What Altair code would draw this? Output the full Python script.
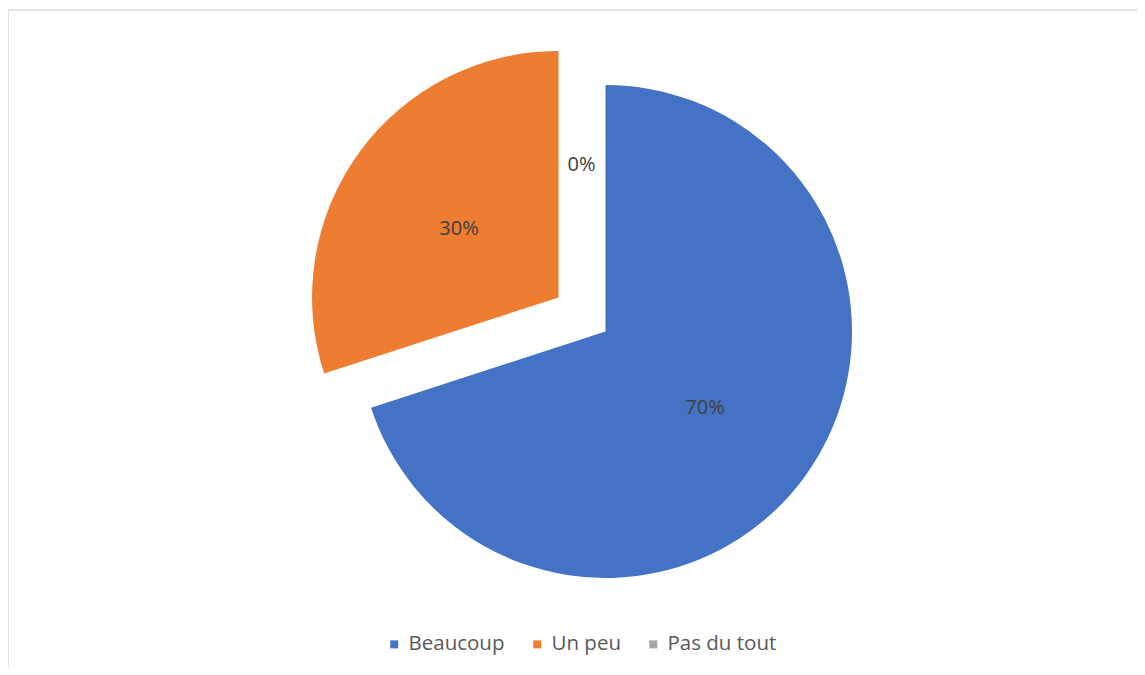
import altair as alt
import pandas as pd

categories = ["Beaucoup", "Un peu", "Pas du tout"]
values = [70, 30, 0]
labels = ["70%", "30%", "0%"]
colors = ["#4472C4", "#ED7D31", "#A5A5A5"]

EXPLODED = ["Un peu", "Pas du tout"]
W, H = 1129, 657
CX, CY = 597.5, 321.5
R = 246.5
EXPLODE = 58
LABEL_R = 123

df = pd.DataFrame({
    "cat": categories,
    "value": values,
    "label": labels,
    "order": list(range(len(categories))),
})

exploded_expr = "indexof(" + str(EXPLODED).replace("'", '"') + ", datum.cat) >= 0 ? 1 : 0"

base = (
    alt.Chart(df)
    .transform_joinaggregate(total="sum(value)")
    .transform_window(cum="sum(value)", sort=[alt.SortField("order")], frame=[None, 0])
    .transform_calculate(
        start="2*PI*(datum.cum - datum.value)/datum.total",
        end="2*PI*datum.cum/datum.total",
    )
    .transform_calculate(mid="(datum.start + datum.end)/2", ex=exploded_expr)
    .transform_calculate(
        cx=f"{CX} + datum.ex*{EXPLODE}*sin(datum.mid)",
        cy=f"{CY} - datum.ex*{EXPLODE}*cos(datum.mid)",
    )
    .transform_calculate(
        lx=f"datum.cx + {LABEL_R}*sin(datum.mid) + (datum.value == 0 ? -24 : 0)",
        ly=f"datum.cy - {LABEL_R}*cos(datum.mid) + (datum.value == 0 ? 10 : 0)",
    )
)

arcs = base.mark_arc(outerRadius=R, stroke=None).encode(
    x=alt.X("cx:Q", scale=None, axis=None),
    y=alt.Y("cy:Q", scale=None, axis=None),
    theta=alt.Theta("start:Q", scale=None),
    theta2="end:Q",
    color=alt.Color(
        "cat:N",
        scale=alt.Scale(domain=categories, range=colors),
        sort=categories,
        legend=alt.Legend(
            title=None,
            orient="none",
            direction="horizontal",
            legendX=376,
            legendY=624,
            symbolType="square",
            symbolSize=64,
            symbolStrokeWidth=0,
            labelFontSize=20.5,
            labelFont="Open Sans",
            labelColor="#595959",
            labelOffset=4,
            columnPadding=22,
        ),
    ),
)

texts = base.mark_text(fontSize=20, font="Open Sans", color="#404040", dy=4).encode(
    x=alt.X("lx:Q", scale=None, axis=None),
    y=alt.Y("ly:Q", scale=None, axis=None),
    text="label:N",
)

frame_src = alt.Data(values=[{}])
top_rule = alt.Chart(frame_src).mark_rule(color="#D9D9D9", strokeWidth=1.5).encode(
    x=alt.value(0), x2=alt.value(W), y=alt.value(0)
)
left_rule = alt.Chart(frame_src).mark_rule(color="#D9D9D9", strokeWidth=1.5).encode(
    x=alt.value(0), y=alt.value(0), y2=alt.value(H)
)

chart = (
    alt.layer(top_rule, left_rule, arcs, texts)
    .properties(
        width=W,
        height=H,
        autosize=alt.AutoSizeParams(type="none"),
        padding={"left": 0, "top": 2, "right": 0, "bottom": 0},
    )
    .configure_view(stroke=None)
)

chart.save("out.html", embed_options={"renderer": "svg", "actions": False})
